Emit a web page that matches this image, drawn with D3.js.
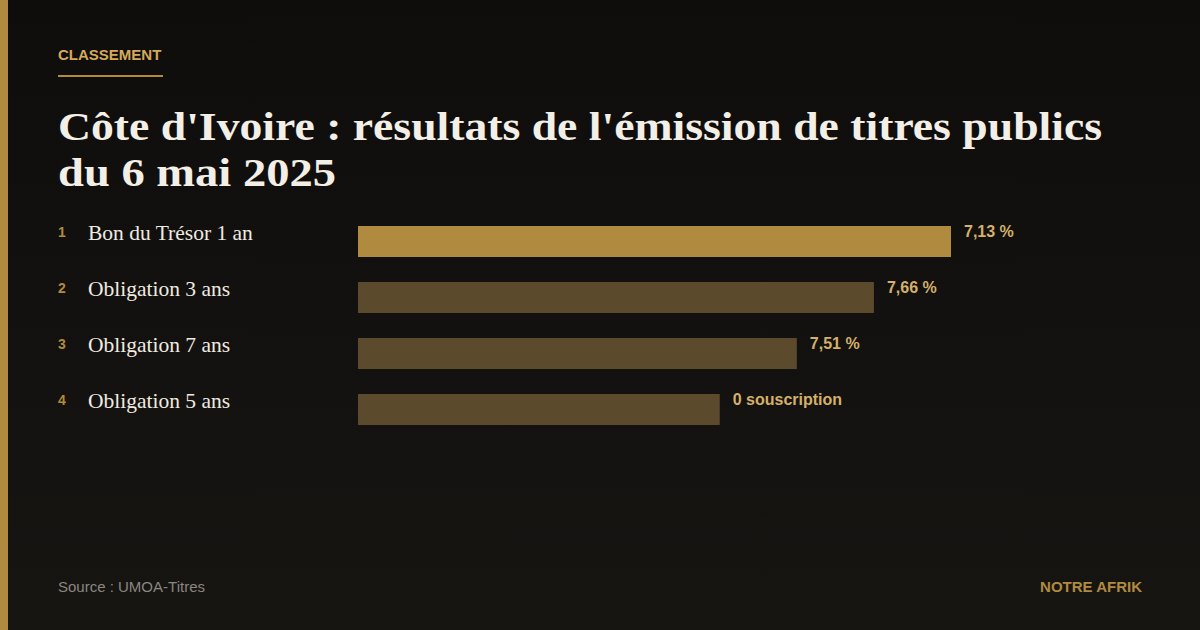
<!DOCTYPE html>
<html>
<head>
<meta charset="utf-8">
<script src="https://cdn.jsdelivr.net/npm/d3@7"></script>
<style>
  html, body { margin: 0; padding: 0; background: #121110; }
  svg { display: block; }
</style>
</head>
<body>
<div id="chart"></div>
<script>
// Classement des titres, rang 1 en haut
var ranks = [1, 2, 3, 4];
var titres = ["Bon du Trésor 1 an", "Obligation 3 ans", "Obligation 7 ans", "Obligation 5 ans"];
var scores = [100, 87, 74, 61];
var valueLabels = ["7,13 %", "7,66 %", "7,51 %", "0 souscription"];

var width = 1200, height = 630;
var serif = "'Liberation Serif', 'DejaVu Serif', serif";
var sans = "'Liberation Sans', Arial, sans-serif";

var svg = d3.select("#chart")
    .append("svg")
    .attr("width", width)
    .attr("height", height);

var defs = svg.append("defs");
var grad = defs.append("linearGradient")
    .attr("id", "bg")
    .attr("x1", 0).attr("y1", 0).attr("x2", 0).attr("y2", 1);
grad.append("stop").attr("offset", "0%").attr("stop-color", "#0e0d0c");
grad.append("stop").attr("offset", "100%").attr("stop-color", "#171512");

svg.append("rect")
    .attr("width", width).attr("height", height)
    .attr("fill", "url(#bg)");

// barre dorée à gauche
svg.append("rect")
    .attr("x", 0).attr("y", 0)
    .attr("width", 8).attr("height", height)
    .attr("fill", "#b08a3e");

// surtitre
svg.append("text")
    .attr("x", 58).attr("y", 60)
    .style("font-family", sans)
    .style("font-weight", "bold")
    .style("font-size", "15px")
    .attr("fill", "#d4a95a")
    .text("CLASSEMENT");

svg.append("rect")
    .attr("x", 58).attr("y", 75)
    .attr("width", 105).attr("height", 2)
    .attr("fill", "#b08a3e");

// titre (police plus étroite que l'original, on l'étire un peu)
var titleLines = ["Côte d'Ivoire : résultats de l'émission de titres publics", "du 6 mai 2025"];
var titleWidths = [1044, 278];
var title = svg.append("text")
    .style("font-family", serif)
    .style("font-weight", "bold")
    .style("font-size", "40px")
    .attr("fill", "#f3efe6");
title.selectAll("tspan")
    .data(titleLines)
    .enter().append("tspan")
    .attr("x", 58)
    .attr("y", function(d, i) { return 140 + i * 46; })
    .attr("textLength", function(d, i) { return titleWidths[i]; })
    .attr("lengthAdjust", "spacingAndGlyphs")
    .text(function(d) { return d; });

// barres
var x = d3.scaleLinear()
    .domain([0, 100])
    .range([0, 593]);

var y = d3.scaleBand()
    .domain(ranks)
    .range([226, 425])
    .paddingInner(25 / 56)
    .paddingOuter(0);

var rows = svg.selectAll(".row")
    .data(ranks)
    .enter().append("g")
    .attr("class", "row")
    .attr("transform", function(d) { return "translate(0," + y(d) + ")"; });

rows.append("text")
    .attr("x", 58).attr("y", 11)
    .style("font-family", sans)
    .style("font-weight", "bold")
    .style("font-size", "14px")
    .attr("fill", "#b08a3e")
    .text(function(d) { return d; });

rows.append("text")
    .attr("x", 88).attr("y", 14)
    .style("font-family", serif)
    .style("font-size", "21.5px")
    .attr("fill", "#f0ebe0")
    .text(function(d, i) { return titres[i]; });

rows.append("rect")
    .attr("x", 358).attr("y", 0)
    .attr("width", function(d, i) { return x(scores[i]); })
    .attr("height", y.bandwidth())
    .attr("fill", function(d, i) { return i === 0 ? "#b08a3e" : "#5c4a2c"; });

rows.append("text")
    .attr("x", function(d, i) { return 358 + x(scores[i]) + 13; })
    .attr("y", 11)
    .style("font-family", sans)
    .style("font-weight", "bold")
    .style("font-size", "16px")
    .attr("fill", "#d4b06a")
    .text(function(d, i) { return valueLabels[i]; });

// pied de page
svg.append("text")
    .attr("x", 58).attr("y", 592)
    .style("font-family", sans)
    .style("font-size", "15px")
    .attr("fill", "#8a8680")
    .text("Source : UMOA-Titres");

svg.append("text")
    .attr("x", 1142).attr("y", 592)
    .style("text-anchor", "end")
    .style("font-family", sans)
    .style("font-weight", "bold")
    .style("font-size", "15px")
    .attr("fill", "#b08a3e")
    .text("NOTRE AFRIK");
</script>
</body>
</html>
